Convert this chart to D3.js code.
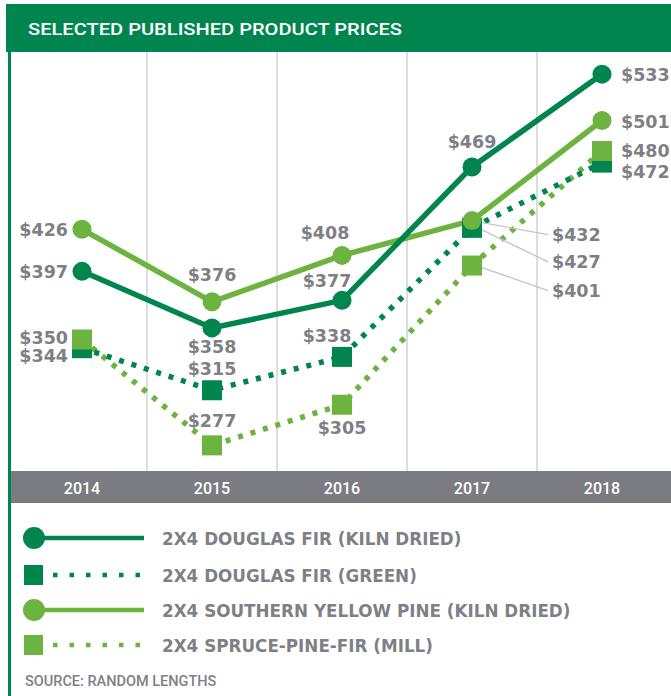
<html>
  <head>
    <script src="https://d3js.org/d3.v7.min.js"></script>
    <style>
      body { margin: 0; background: #fff; }
      text { font-family: "DejaVu Sans", sans-serif; }
    </style>
  </head>
  <body>
    <script>
        // data
        var years = ["2014", "2015", "2016", "2017", "2018"];
        var dfKiln = [397, 358, 377, 469, 533];
        var dfGreen = [344, 315, 338, 427, 472];
        var sypKiln = [426, 376, 408, 432, 501];
        var spfMill = [350, 277, 305, 401, 480];
        var seriesNames = [
            "2X4 DOUGLAS FIR (KILN DRIED)",
            "2X4 DOUGLAS FIR (GREEN)",
            "2X4 SOUTHERN YELLOW PINE (KILN DRIED)",
            "2X4 SPRUCE-PINE-FIR (MILL)"
        ];

        var darkGreen = "#00854f", lightGreen = "#6cb33f", gray = "#7f7f86";

        var width = 671, height = 696;
        var svg = d3.select("body").append("svg")
            .attr("width", width)
            .attr("height", height);

        var x = d3.scaleBand().domain(years).range([17, 667]);
        var y = d3.scaleLinear().domain([260, 540]).range([470, 64]);

        // header
        svg.append("rect").attr("x", 6).attr("y", 4).attr("width", width - 6).attr("height", 48)
            .attr("fill", darkGreen);
        svg.append("text").attr("x", 28).attr("y", 35)
            .attr("fill", "#fff")
            .attr("textLength", 374)
            .attr("lengthAdjust", "spacingAndGlyphs")
            .style("font-family", "Roboto")
            .style("font-size", "17px")
            .style("font-weight", 500)
            .text("SELECTED PUBLISHED PRODUCT PRICES");

        // left rule
        svg.append("rect").attr("x", 8).attr("y", 52).attr("width", 3).attr("height", height - 52)
            .attr("fill", darkGreen);

        // vertical grid between years
        svg.append("g").selectAll("line")
            .data(years.slice(1))
            .enter().append("line")
            .attr("x1", function (d) { return x(d); })
            .attr("x2", function (d) { return x(d); })
            .attr("y1", 52).attr("y2", 471)
            .attr("stroke", "#d2d2d2")
            .attr("stroke-width", 1.5);

        // year band
        svg.append("rect").attr("x", 11).attr("y", 471).attr("width", width - 11).attr("height", 32)
            .attr("fill", "#7b7c81");
        svg.append("g").selectAll("text")
            .data(years)
            .enter().append("text")
            .attr("x", function (d) { return x(d) + x.bandwidth() / 2; })
            .attr("y", 494)
            .attr("text-anchor", "middle")
            .attr("fill", "#fff")
            .style("font-family", "Roboto")
            .style("font-size", "16px")
            .style("font-weight", 500)
            .text(function (d) { return d; });

        // label placement per point: [anchor, dx, dy]
        var dfKilnLab = [["end", -14, 7], ["middle", 0, 25], ["middle", -15, -13], ["middle", 0, -19], ["start", 19, 7]];
        var dfGreenLab = [["end", -14, 14], ["middle", 0, -15], ["middle", -15, -15], ["start", 80, 40], ["start", 19, 15]];
        var sypLab = [["end", -14, 7], ["middle", 0, -21], ["middle", -17, -16], ["start", 80, 20], ["start", 19, 7]];
        var spfLab = [["end", -14, 4], ["middle", 0, -18], ["middle", 0, 29], ["start", 80, 31], ["start", 19, 6]];

        var series = [
            { values: dfKiln, color: darkGreen, dotted: false, marker: "circle", lab: dfKilnLab },
            { values: dfGreen, color: darkGreen, dotted: true, marker: "square", lab: dfGreenLab },
            { values: sypKiln, color: lightGreen, dotted: false, marker: "circle", lab: sypLab },
            { values: spfMill, color: lightGreen, dotted: true, marker: "square", lab: spfLab }
        ];

        var cx = function (i) { return x(years[i]) + x.bandwidth() / 2; };
        var line = d3.line()
            .x(function (d, i) { return cx(i); })
            .y(function (d) { return y(d); });

        // lines (dark solid on top of light solid)
        var lineOrder = [3, 1, 2, 0];
        lineOrder.forEach(function (k) {
            var s = series[k];
            svg.append("path")
                .datum(s.values)
                .attr("d", line)
                .attr("fill", "none")
                .attr("stroke", s.color)
                .attr("stroke-width", 5.5)
                .attr("stroke-dasharray", s.dotted ? "5,8" : null);
        });

        // markers
        series.forEach(function (s) {
            var g = svg.append("g");
            if (s.marker == "circle") {
                g.selectAll("circle").data(s.values).enter().append("circle")
                    .attr("cx", function (d, i) { return cx(i); })
                    .attr("cy", function (d) { return y(d); })
                    .attr("r", 9.5)
                    .attr("fill", s.color);
            } else {
                g.selectAll("rect").data(s.values).enter().append("rect")
                    .attr("x", function (d, i) { return cx(i) - 10; })
                    .attr("y", function (d) { return y(d) - 10; })
                    .attr("width", 20).attr("height", 20)
                    .attr("fill", s.color);
            }
        });

        // leader lines for 2017 labels
        series.forEach(function (s) {
            var l = s.lab[3];
            if (l[1] < 50) return;
            var px = cx(3), py = y(s.values[3]);
            svg.append("line")
                .attr("x1", px + 10).attr("y1", py + 2)
                .attr("x2", px + l[1] - 4).attr("y2", py + l[2] - 6)
                .attr("stroke", "#c4c4c4")
                .attr("stroke-width", 1.3);
        });

        // value labels
        series.forEach(function (s) {
            svg.append("g").selectAll("text")
                .data(s.values)
                .enter().append("text")
                .attr("x", function (d, i) { return cx(i) + s.lab[i][1]; })
                .attr("y", function (d, i) { return y(d) + s.lab[i][2]; })
                .attr("text-anchor", function (d, i) { return s.lab[i][0]; })
                .attr("fill", gray)
                .style("font-size", "17.5px")
                .style("font-weight", "bold")
                .text(function (d) { return "$" + d; });
        });

        // legend
        var legY = [538, 575, 610, 645];
        series.forEach(function (s, k) {
            var ly = legY[k];
            var g = svg.append("g");
            if (s.dotted) {
                g.append("line").attr("x1", 53).attr("x2", 140).attr("y1", ly).attr("y2", ly)
                    .attr("stroke", s.color).attr("stroke-width", 4.5)
                    .attr("stroke-dasharray", "4.5,12");
                g.append("rect").attr("x", 24).attr("y", ly - 10).attr("width", 19).attr("height", 20)
                    .attr("fill", s.color);
            } else {
                g.append("line").attr("x1", 33).attr("x2", 144).attr("y1", ly).attr("y2", ly)
                    .attr("stroke", s.color).attr("stroke-width", 4.5);
                g.append("circle").attr("cx", 34).attr("cy", ly).attr("r", 11)
                    .attr("fill", s.color);
            }
            g.append("text").attr("x", 162).attr("y", ly + 7)
                .attr("fill", gray)
                .style("font-size", "16.8px")
                .style("font-weight", "bold")
                .text(seriesNames[k]);
        });

        svg.append("text").attr("x", 25).attr("y", 686)
            .attr("fill", gray)
            .style("font-family", "Roboto")
            .style("font-size", "14.5px")
            .style("font-weight", 500)
            .text("SOURCE: RANDOM LENGTHS");
    </script>
  </body>
</html>
